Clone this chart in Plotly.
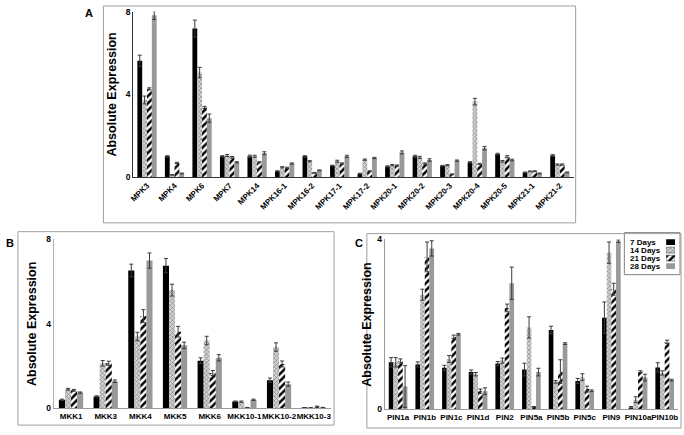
import plotly.graph_objects as go

W, H = 684, 435

series = ["7 Days", "14 Days", "21 Days", "28 Days"]

# Panel A
mpk_genes = ["MPK3", "MPK4", "MPK6", "MPK7", "MPK14", "MPK16-1", "MPK16-2", "MPK17-1",
             "MPK17-2", "MPK20-1", "MPK20-2", "MPK20-3", "MPK20-4", "MPK20-5", "MPK21-1", "MPK21-2"]
mpk_7 = [5.63, 1.00, 7.19, 1.00, 1.00, 0.28, 1.00, 0.55, 0.16, 0.51, 1.00, 0.54, 0.71, 1.11, 0.22, 1.04]
mpk_14 = [3.73, 0.10, 5.06, 1.04, 1.00, 0.47, 0.76, 0.76, 0.84, 0.57, 0.95, 0.57, 3.65, 0.76, 0.27, 0.60]
mpk_21 = [4.27, 0.68, 3.37, 0.95, 0.71, 0.44, 0.20, 0.65, 0.28, 0.55, 0.65, 0.13, 0.63, 0.98, 0.28, 0.60]
mpk_28 = [7.83, 0.17, 2.85, 0.71, 1.15, 0.65, 0.32, 1.00, 0.92, 1.19, 0.82, 0.79, 1.39, 0.82, 0.17, 0.22]
mpk_7_err = [0.27, 0.03, 0.41, 0.03, 0.06, 0.02, 0.03, 0.02, 0.02, 0.03, 0.05, 0.02, 0.03, 0.04, 0.02, 0.04]
mpk_14_err = [0.19, 0.01, 0.25, 0.05, 0.05, 0.03, 0.03, 0.05, 0.03, 0.03, 0.05, 0.03, 0.16, 0.04, 0.02, 0.03]
mpk_21_err = [0.05, 0.03, 0.05, 0.04, 0.03, 0.03, 0.02, 0.03, 0.02, 0.03, 0.03, 0.02, 0.03, 0.05, 0.02, 0.03]
mpk_28_err = [0.20, 0.02, 0.20, 0.03, 0.07, 0.03, 0.02, 0.05, 0.03, 0.07, 0.06, 0.03, 0.08, 0.04, 0.02, 0.02]

# Panel B
mkk_genes = ["MKK1", "MKK3", "MKK4", "MKK5", "MKK6", "MKK10-1", "MKK10-2", "MKK10-3"]
mkk_7 = [0.40, 0.56, 6.53, 6.76, 2.25, 0.32, 1.33, 0.02]
mkk_14 = [0.90, 2.13, 3.40, 5.60, 3.21, 0.31, 2.90, 0.02]
mkk_21 = [0.85, 2.13, 4.37, 3.63, 1.67, 0.03, 2.10, 0.05]
mkk_28 = [0.74, 1.28, 7.00, 2.98, 2.39, 0.40, 1.14, 0.03]
mkk_7_err = [0.03, 0.03, 0.30, 0.34, 0.14, 0.02, 0.10, 0.01]
mkk_14_err = [0.04, 0.13, 0.20, 0.28, 0.20, 0.03, 0.20, 0.01]
mkk_21_err = [0.04, 0.10, 0.30, 0.25, 0.12, 0.01, 0.14, 0.05]
mkk_28_err = [0.03, 0.06, 0.36, 0.15, 0.15, 0.03, 0.10, 0.01]

# Panel C
pin_genes = ["PIN1a", "PIN1b", "PIN1c", "PIN1d", "PIN2", "PIN5a", "PIN5b", "PIN5c", "PIN9", "PIN10a", "PIN10b"]
pin_7 = [1.11, 1.06, 0.98, 0.88, 1.08, 0.94, 1.87, 0.67, 2.16, 0.04, 0.99]
pin_14 = [1.11, 2.70, 1.19, 0.83, 1.15, 1.93, 0.65, 0.76, 3.69, 0.23, 0.86]
pin_21 = [1.14, 3.59, 1.71, 0.43, 2.39, 0.06, 0.89, 0.48, 2.83, 0.89, 1.59]
pin_28 = [0.54, 3.79, 1.77, 0.43, 2.97, 0.88, 1.55, 0.44, 3.96, 0.75, 0.69]
pin_7_err = [0.11, 0.06, 0.06, 0.05, 0.05, 0.15, 0.09, 0.06, 0.37, 0.03, 0.11]
pin_14_err = [0.11, 0.13, 0.08, 0.04, 0.06, 0.25, 0.03, 0.08, 0.25, 0.07, 0.05]
pin_21_err = [0.05, 0.35, 0.04, 0.05, 0.09, 0.01, 0.28, 0.07, 0.14, 0.02, 0.04]
pin_28_err = [0.49, 0.18, 0.02, 0.08, 0.38, 0.09, 0.02, 0.02, 0.03, 0.08, 0.02]

legend_swatch = [1, 1, 1, 1]

FONT = "Liberation Sans, Arial, sans-serif"

styles = [
    dict(color="#000000", pattern=dict(shape="")),
    dict(color="#cfcfcf", pattern=dict(shape="x", fgcolor="#6a6a6a", bgcolor="#d4d4d4", size=3, solidity=0.3, fillmode="replace")),
    dict(color="#ffffff", pattern=dict(shape="/", fgcolor="#000000", bgcolor="#ffffff", size=5, solidity=0.5, fillmode="replace")),
    dict(color="#999999", pattern=dict(shape="")),
]

fig = go.Figure()

panels = [
    ("x", "y", mpk_genes, [mpk_7, mpk_14, mpk_21, mpk_28], [mpk_7_err, mpk_14_err, mpk_21_err, mpk_28_err]),
    ("x2", "y2", mkk_genes, [mkk_7, mkk_14, mkk_21, mkk_28], [mkk_7_err, mkk_14_err, mkk_21_err, mkk_28_err]),
    ("x3", "y3", pin_genes, [pin_7, pin_14, pin_21, pin_28], [pin_7_err, pin_14_err, pin_21_err, pin_28_err]),
]

for xa, ya, cats, vals, errs in panels:
    for i, name in enumerate(series):
        fig.add_trace(go.Bar(
            x=cats, y=vals[i], name=name, xaxis=xa, yaxis=ya,
            marker=dict(color=styles[i]["color"], pattern=styles[i]["pattern"], line=dict(width=0)),
            error_y=dict(type="data", array=errs[i], visible=True, color="#3a3a3a", thickness=1, width=2),
            showlegend=False, cliponaxis=False,
        ))

# custom legend (swatches on the right of the labels)
for i, name in enumerate(series):
    fig.add_trace(go.Bar(
        y=[name], x=[legend_swatch[i]], orientation="h", xaxis="x4", yaxis="y4",
        marker=dict(color=styles[i]["color"], pattern=styles[i]["pattern"],
                    line=dict(width=0.6 if i in (1, 2) else 0, color="#444")),
        offsetgroup="leg", width=0.72, showlegend=False, hoverinfo="skip",
    ))


def px_x(v):
    return v / W


def px_y(v):
    return 1 - v / H


tickf = dict(family=FONT, size=8, color="#000", weight="bold")
ytickf = dict(family=FONT, size=8.5, color="#000", weight="bold")
titlef = dict(family=FONT, size=12.5, color="#000", weight="bold")

fig.update_layout(
    width=W, height=H, margin=dict(l=0, r=0, t=0, b=0), autosize=False,
    paper_bgcolor="white", plot_bgcolor="white",
    barmode="group", bargap=0.3, bargroupgap=0.0,
    font=dict(family=FONT),
    xaxis=dict(domain=[px_x(130), px_x(573)], anchor="y", tickangle=-45, tickfont=tickf,
               showline=True, linecolor="#333", linewidth=1, ticks="", showgrid=False),
    yaxis=dict(domain=[px_y(176), px_y(7)], anchor="x", range=[0, 8], tickvals=[0, 4, 8],
               tickfont=ytickf, showline=True, linecolor="#333", linewidth=1, showgrid=False,
               zeroline=False, ticks="", title=dict(text="Absolute Expression", font=titlef, standoff=6)),
    xaxis2=dict(domain=[px_x(50), px_x(329)], anchor="y2", tickangle=0, tickfont=tickf,
                showline=True, linecolor="#9a9a9a", linewidth=1, ticks="", showgrid=False),
    yaxis2=dict(domain=[px_y(412.7), px_y(240)], anchor="x2", range=[0, 8], tickvals=[0, 4, 8],
                tickfont=ytickf, showline=True, linecolor="#b0b0b0", linewidth=1, showgrid=False,
                zeroline=False, ticks="", title=dict(text="Absolute Expression", font=titlef, standoff=6)),
    xaxis3=dict(domain=[px_x(383), px_x(678)], anchor="y3", tickangle=0, tickfont=tickf,
                showline=True, linecolor="#9a9a9a", linewidth=1, ticks="", showgrid=False),
    yaxis3=dict(domain=[px_y(414), px_y(240)], anchor="x3", range=[0, 4], tickvals=[0, 4],
                tickfont=ytickf, showline=True, linecolor="#9a9a9a", linewidth=1, showgrid=False,
                zeroline=False, ticks="", title=dict(text="Absolute Expression", font=titlef, standoff=2)),
    xaxis4=dict(domain=[px_x(666), px_x(675)], anchor="y4", range=[0, 1], visible=False, fixedrange=True),
    yaxis4=dict(domain=[px_y(274), px_y(236)], anchor="x4", categoryorder="array", categoryarray=series,
                autorange="reversed", showticklabels=False, showline=False, showgrid=False,
                zeroline=False, ticks=""),
)

# legend labels
for name in series:
    fig.add_annotation(x=px_x(628), xref="paper", y=name, yref="y4", text=name, showarrow=False,
                       xanchor="left", yanchor="middle", font=dict(family=FONT, size=8, color="#000", weight="bold"))

# panel frames and legend box
frames = [(100, 1, 575, 223), (14, 232, 332, 430), (365, 234, 681, 433)]
for x0, y0, x1, y1 in frames:
    fig.add_shape(type="rect", xref="paper", yref="paper", x0=px_x(x0), x1=px_x(x1),
                  y0=px_y(y1), y1=px_y(y0), line=dict(color="#a0a0a0", width=1), fillcolor="rgba(0,0,0,0)")
fig.add_shape(type="rect", xref="paper", yref="paper", x0=px_x(624), x1=px_x(680),
              y0=px_y(276), y1=px_y(233), line=dict(color="#808080", width=1), fillcolor="white", layer="below")

# panel letters
for txt, xx, yy in [("A", 85, 8), ("B", 6, 244), ("C", 357, 244)]:
    fig.add_annotation(x=px_x(xx), y=px_y(yy), xref="paper", yref="paper", text=txt, showarrow=False,
                       xanchor="center", yanchor="middle", font=dict(family=FONT, size=11, color="#000", weight="bold"))

fig.write_html("out.html", config={"displayModeBar": False},
               post_script="document.body.style.margin='0px';document.body.style.overflow='hidden';")
